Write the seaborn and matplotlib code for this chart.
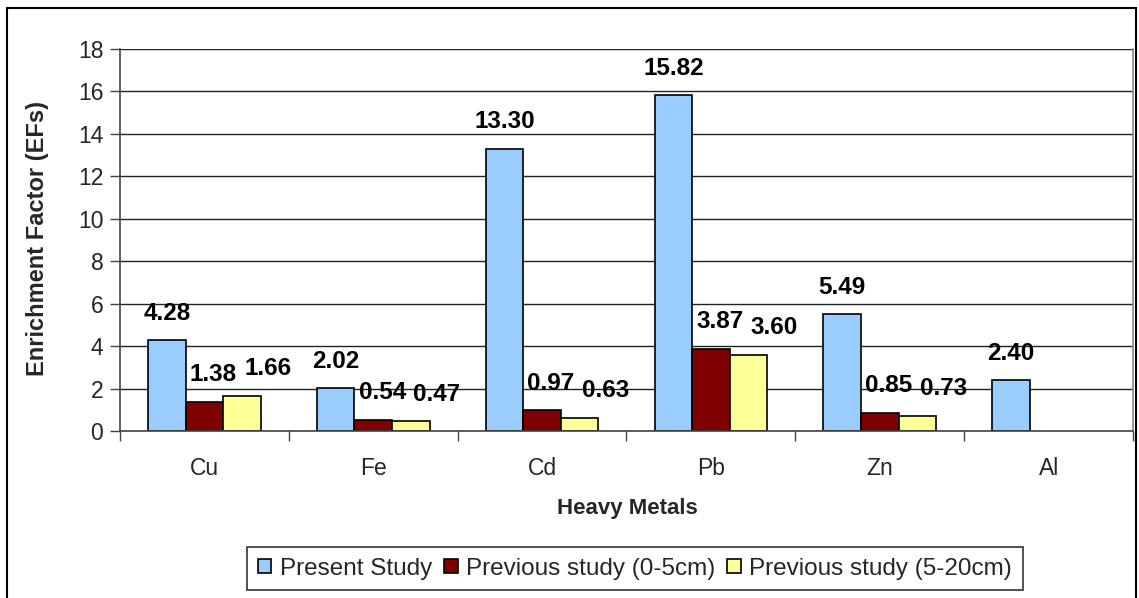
import matplotlib
matplotlib.use("Agg")
import matplotlib.pyplot as plt
from matplotlib.patches import Rectangle
from matplotlib.ticker import MultipleLocator, FixedLocator, NullFormatter
import numpy as np
import pandas as pd
import seaborn as sns

# Enrichment factors per heavy metal
metals = ["Cu", "Fe", "Cd", "Pb", "Zn", "Al"]
present_study = [4.28, 2.02, 13.30, 15.82, 5.49, 2.40]
previous_0_5 = [1.38, 0.54, 0.97, 3.87, 0.85, None]
previous_5_20 = [1.66, 0.47, 0.63, 3.60, 0.73, None]
series_names = ["Present Study", "Previous study (0-5cm)", "Previous study (5-20cm)"]

rows = []
for name, vals in zip(series_names, [present_study, previous_0_5, previous_5_20]):
    for m, v in zip(metals, vals):
        if v is not None:
            rows.append({"Metal": m, "Series": name, "EF": v})
df = pd.DataFrame(rows)

colors = ["#99CCFF", "#800000", "#FFFF99"]
label_dx_px = [0, 9, 26]   # horizontal nudge of value labels per series

sns.set_style("white")
plt.rcParams["font.family"] = ["Liberation Sans", "DejaVu Sans"]

W, H = 1139, 598
fig = plt.figure(figsize=(W / 100, H / 100), dpi=100)
ax = fig.add_axes([120 / W, (H - 431) / H, 1013 / W, 382 / H])

sns.barplot(data=df, x="Metal", y="EF", hue="Series", order=metals,
            hue_order=series_names, palette=colors, width=0.667,
            edgecolor="black", linewidth=1.2, saturation=1, ax=ax,
            legend=True, errorbar=None)

ax.set_ylim(0, 18)
ax.set_xlim(-0.5, len(metals) - 0.5)
ax.yaxis.set_major_locator(MultipleLocator(2))
ax.grid(axis="y", color="#222222", linewidth=1.0)
ax.set_axisbelow(True)

ax.spines["top"].set_visible(False)
ax.spines["right"].set_color("#888888")
ax.spines["left"].set_color("#444444")
ax.spines["bottom"].set_color("#444444")
for s in ["left", "bottom", "right"]:
    ax.spines[s].set_linewidth(1.2)

ax.tick_params(axis="y", which="major", direction="out", length=7, width=1,
               color="#444444", labelsize=16.5, pad=5, left=True)
ax.tick_params(axis="x", which="major", length=0, labelsize=16.5, pad=19)
ax.xaxis.set_minor_locator(FixedLocator(np.arange(-0.5, len(metals), 1.0)))
ax.xaxis.set_minor_formatter(NullFormatter())
ax.tick_params(axis="x", which="minor", direction="out", length=7, width=1,
               color="#444444", bottom=True)

ax.set_xlabel("Heavy Metals", fontsize=16, fontweight="bold")
ax.set_ylabel("Enrichment Factor (EFs)", fontsize=17, fontweight="bold")
ax.xaxis.set_label_coords(0.501, -0.175)
ax.yaxis.set_label_coords(-0.070, 0.505)

# Value labels above each bar
for k, cont in enumerate(ax.containers):
    for bar in cont:
        h = bar.get_height()
        if h is None or np.isnan(h):
            continue
        ax.annotate(f"{h:.2f}", (bar.get_x() + bar.get_width() / 2, h),
                    xytext=(label_dx_px[k] * 0.72, 27 * 0.72),
                    textcoords="offset points", ha="center", va="center",
                    fontsize=17.5, fontweight="bold", color="black")

handles, labels = ax.get_legend_handles_labels()
ax.get_legend().remove()
leg = fig.legend(handles, labels, loc="center", ncol=3,
                 bbox_to_anchor=(635 / W, 1 - 568.5 / H), frameon=True,
                 fontsize=17.5, handlelength=0.55, handleheight=0.55,
                 handletextpad=0.35, columnspacing=0.5, borderpad=0.45,
                 borderaxespad=0, fancybox=False, edgecolor="black")
leg.get_frame().set_linewidth(1.2)

fig.patches.append(Rectangle((7 / W, -0.01), 1129 / W, 1 - 8 / H + 0.01,
                             transform=fig.transFigure, fill=False,
                             edgecolor="black", linewidth=1.5))

fig.savefig("out.png", dpi=100)
